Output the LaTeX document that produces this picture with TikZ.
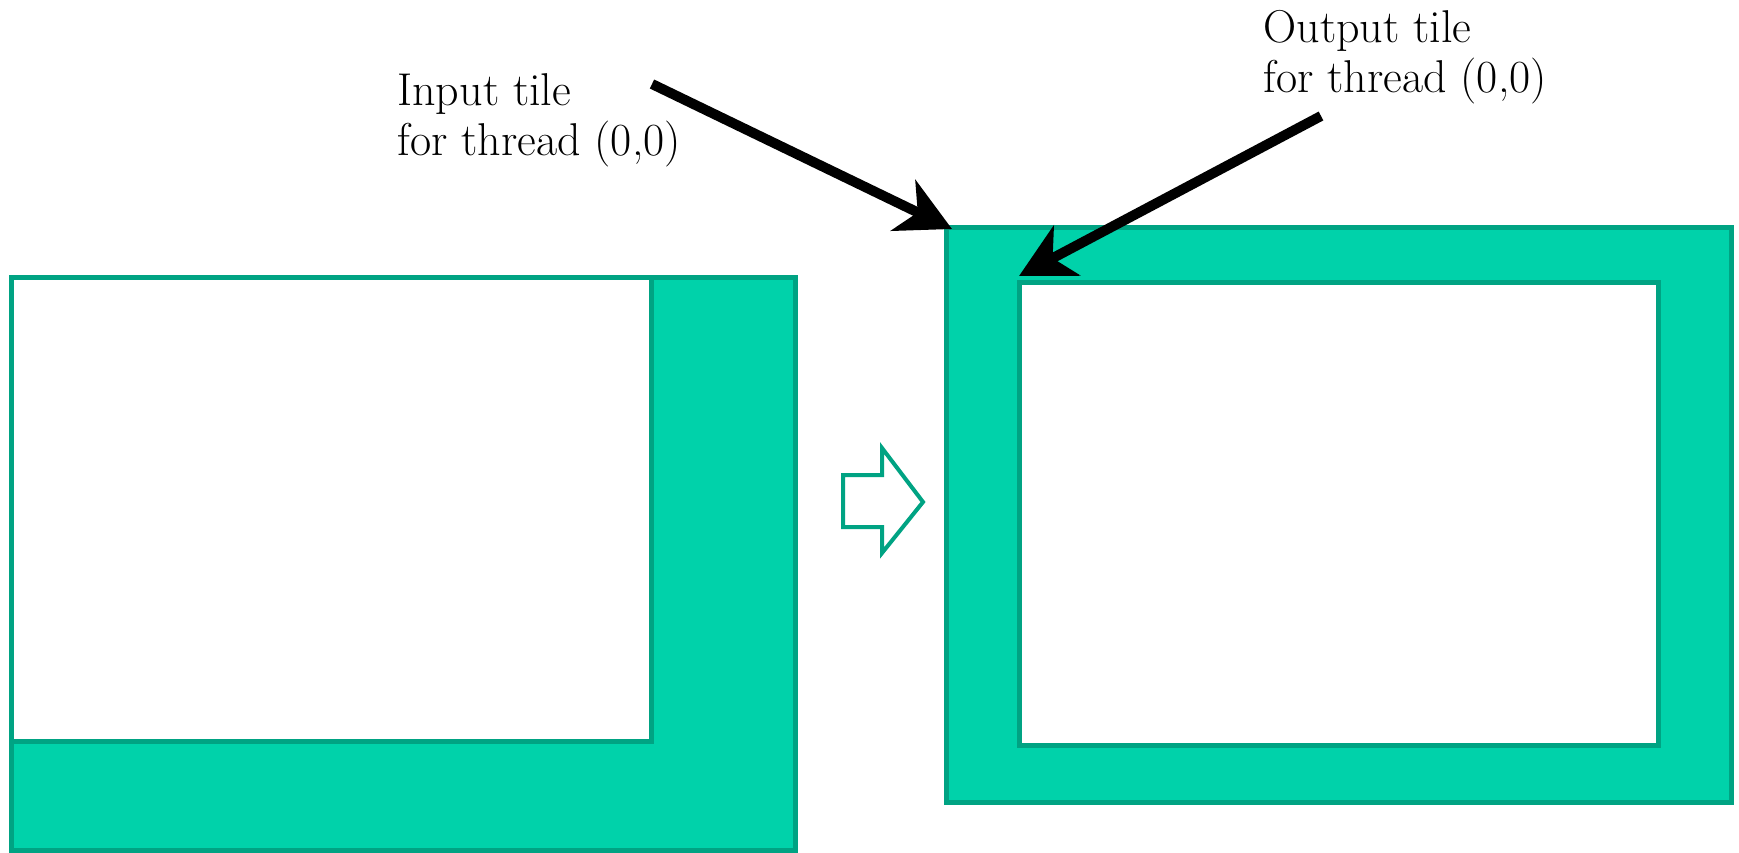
\documentclass[tikz,border=0pt]{standalone}
\usetikzlibrary{arrows.meta}
\definecolor{tilefill}{RGB}{0,210,170}
\definecolor{tileedge}{RGB}{0,163,131}
\begin{document}
\begin{tikzpicture}[x=0.5pt,y=-0.5pt,
  tile/.style={fill=tilefill,draw=tileedge,line width=2.5pt},
  hole/.style={fill=white,draw=tileedge,line width=2.5pt},
  pointer/.style={line width=5pt,-{Stealth[length=27pt,width=28pt,inset=8pt]}},
  tiplabel/.style={font=\fontsize{23}{25}\selectfont,align=left,inner sep=0pt,anchor=base west},
  bigarrow/.style={fill=white,draw=tileedge,line width=2pt,line join=miter}]
\useasboundingbox (0,0) rectangle (1739,852);
% left: input tile
\path[tile] (11,277) rectangle (795,850);
\path[hole] (11,277) rectangle (651,741);
% right: output tile
\path[tile] (946,227) rectangle (1731,802);
\path[hole] (1019,282) rectangle (1658,745);
% hollow arrow
\path[bigarrow] (843,475) -- (882,475) -- (882,448) -- (923,502) -- (882,553) -- (882,527) -- (843,527) -- cycle;
% labels (anchor on the last line's baseline)
\node[tiplabel] (inlabel) at (397,155) {Input tile\\for thread (0,0)};
\node[tiplabel] (outlabel) at (1263,92) {Output tile\\for thread (0,0)};
% pointers
\coordinate (intail) at (652,84);
\coordinate (intip) at (952,229);
\coordinate (outtail) at (1321,116);
\coordinate (outtip) at (1019,276);
\draw[pointer] (intail) -- (intip);
\draw[pointer] (outtail) -- (outtip);
\end{tikzpicture}
\end{document}
